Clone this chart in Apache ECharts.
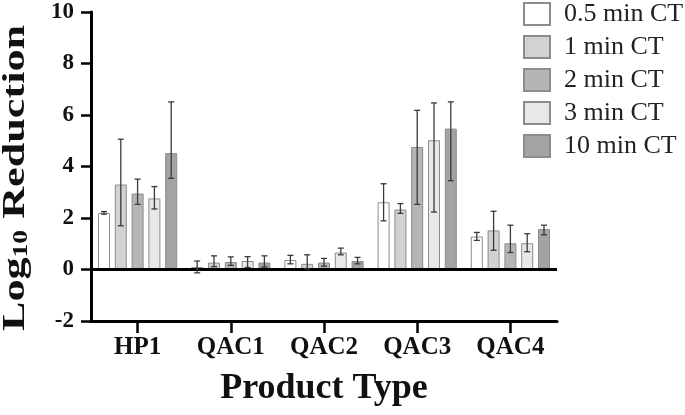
<!DOCTYPE html>
<html>
<head>
<meta charset="utf-8">
<script src="https://cdn.jsdelivr.net/npm/echarts@6/dist/echarts.min.js"></script>
<style>html,body{margin:0;padding:0;background:#fff}#c{width:685px;height:415px}</style>
</head>
<body>
<div id="c"></div>
<script>
var categories = ['HP1', 'QAC1', 'QAC2', 'QAC3', 'QAC4'];
var seriesNames = ['0.5 min CT', '1 min CT', '2 min CT', '3 min CT', '10 min CT'];
var yTicks = [-2, 0, 2, 4, 6, 8, 10];

var mean05 = [2.2, 0.1, 0.37, 2.61, 1.28];
var up05   = [0.05, 0.23, 0.18, 0.72, 0.16];
var down05 = [0.05, 0.23, 0.15, 0.72, 0.15];

var mean1 = [3.3, 0.27, 0.22, 2.33, 1.52];
var up1   = [1.76, 0.26, 0.35, 0.23, 0.74];
var down1 = [1.6, 0.16, 0.2, 0.15, 0.77];

var mean2 = [2.95, 0.29, 0.27, 4.76, 1.02];
var up2   = [0.56, 0.2, 0.16, 1.42, 0.7];
var down2 = [0.42, 0.13, 0.14, 2.23, 0.36];

var mean3 = [2.76, 0.33, 0.66, 5.02, 1.02];
var up3   = [0.46, 0.17, 0.17, 1.45, 0.37];
var down3 = [0.41, 0.25, 0.09, 2.79, 0.33];

var mean10 = [4.52, 0.27, 0.33, 5.47, 1.57];
var up10   = [1.99, 0.26, 0.14, 1.04, 0.15];
var down10 = [0.98, 0.18, 0.11, 2.02, 0.22];

var means = [mean05, mean1, mean2, mean3, mean10];
var ups = [up05, up1, up2, up3, up10];
var downs = [down05, down1, down2, down3, down10];
var colors = ['#ffffff', '#d2d2d2', '#b5b5b5', '#e8e8e8', '#a3a3a3'];

var FONT = '"Liberation Serif", "Times New Roman", serif';
var BAR_W = 12, GAP = 4.8;

var series = [];
seriesNames.forEach(function (name, i) {
  var s = {
    name: name, type: 'bar', data: means[i], barWidth: BAR_W, barGap: (GAP / BAR_W * 100) + '%',
    itemStyle: { color: colors[i], borderColor: '#8c8c8c', borderWidth: 1 },
    silent: true
  };
  if (i === 0) {
    s.markLine = {
      silent: true, symbol: 'none', label: { show: false },
      lineStyle: { color: '#000', width: 3, type: 'solid' },
      data: [{ yAxis: 0 }]
    };
  }
  series.push(s);
});
seriesNames.forEach(function (name, i) {
  var errData = categories.map(function (c, j) {
    return [j, means[i][j] - downs[i][j], means[i][j] + ups[i][j]];
  });
  series.push({
    type: 'custom', silent: true, z: 5,
    data: errData,
    encode: { x: 0, y: [1, 2] },
    renderItem: function (params, api) {
      var x = api.coord([api.value(0), 0])[0] + (i - 2) * (BAR_W + GAP);
      var lo = api.coord([api.value(0), api.value(1)])[1];
      var hi = api.coord([api.value(0), api.value(2)])[1];
      var cw = 3;
      var st = { stroke: '#3a3a3a', lineWidth: 1.3 };
      return { type: 'group', children: [
        { type: 'line', shape: { x1: x, y1: lo, x2: x, y2: hi }, style: st },
        { type: 'line', shape: { x1: x - cw, y1: lo, x2: x + cw, y2: lo }, style: st },
        { type: 'line', shape: { x1: x - cw, y1: hi, x2: x + cw, y2: hi }, style: st }
      ]};
    }
  });
});

var chart = echarts.init(document.getElementById('c'));
chart.setOption({
  animation: false,
  backgroundColor: '#fff',
  grid: { left: 91, right: 128, top: 12, bottom: 94, containLabel: false, outerBoundsMode: 'none' },
  legend: {
    data: seriesNames, orient: 'vertical', left: 523, top: 1,
    itemWidth: 26, itemHeight: 22, itemGap: 7, padding: 0,
    icon: 'rect',
    textStyle: { fontFamily: FONT, fontSize: 26, lineHeight: 22, color: '#222', padding: [0, 0, 0, 9] }
  },
  graphic: [{
    type: 'text', x: 16, y: 178, rotation: Math.PI / 2, scaleX: 1.38, silent: true,
    style: {
      text: '{a|Log}{s|10}{a| Reduction}', align: 'center', verticalAlign: 'middle',
      rich: {
        a: { fontFamily: FONT, fontWeight: 'bold', fontSize: 32, fill: '#111', lineHeight: 32, verticalAlign: 'top' },
        s: { fontFamily: FONT, fontWeight: 'bold', fontSize: 20, fill: '#111', lineHeight: 20, padding: [20, 0, 0, 0], verticalAlign: 'bottom' }
      }
    }
  }],
  xAxis: {
    type: 'category', data: categories, position: 'bottom',
    axisLine: { onZero: false, lineStyle: { color: '#000', width: 3 } },
    axisTick: { show: true, alignWithLabel: true, length: 12, lineStyle: { color: '#000', width: 2.5 } },
    axisLabel: { fontFamily: FONT, fontWeight: 'bold', fontSize: 25, color: '#111', margin: 14 },
    name: 'Product Type', nameLocation: 'middle', nameGap: 50,
    nameTextStyle: { fontFamily: FONT, fontWeight: 'bold', fontSize: 36, color: '#111' }
  },
  yAxis: {
    type: 'value', min: yTicks[0], max: yTicks[yTicks.length - 1], interval: 2,
    splitLine: { show: false },
    axisLine: { show: true, lineStyle: { color: '#000', width: 3 } },
    axisTick: { show: true, length: 10, lineStyle: { color: '#000', width: 2.5 } },
    axisLabel: { fontFamily: FONT, fontWeight: 'bold', fontSize: 23, color: '#111', margin: 17 }
  },
  series: series
});
</script>
</body>
</html>
